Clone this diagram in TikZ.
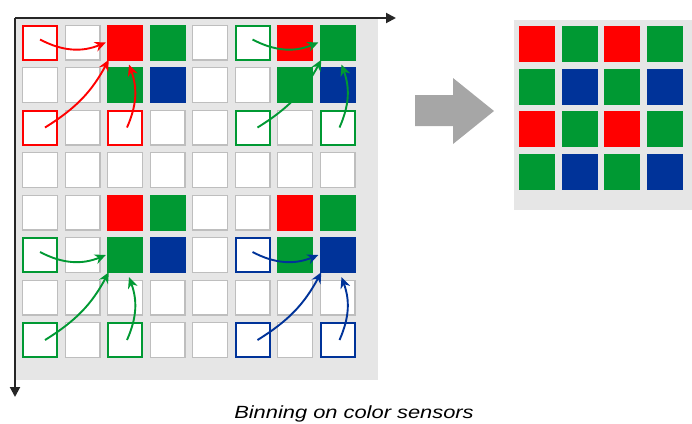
\documentclass[tikz,border=0pt]{standalone}
\usepackage{fontspec}
\usepackage{xcolor}
\usepackage{tikz}
\usetikzlibrary{arrows.meta, positioning, calc}
\newfontfamily\capfont{Liberation Sans}
\definecolor{bayerred}{RGB}{255, 0, 0}
\definecolor{bayergreen}{RGB}{0, 153, 51}
\definecolor{bayerblue}{RGB}{0, 51, 153}
\definecolor{panelgray}{RGB}{230, 230, 230}
\definecolor{cellgray}{RGB}{190, 190, 190}
\definecolor{axisdark}{RGB}{38, 38, 38}
\definecolor{bigarrow}{RGB}{166, 166, 166}
\tikzset{
    px/.style={rectangle, draw=cellgray, fill=white, line width=1.2bp, minimum size=34.8bp, inner sep=0pt},
    pr/.style={rectangle, fill=bayerred, minimum size=36bp, inner sep=0pt},
    pg/.style={pr, fill=bayergreen},
    pb/.style={pr, fill=bayerblue},
    sr/.style={px, draw=bayerred, line width=2bp, minimum size=34bp},
    sg/.style={sr, draw=bayergreen},
    sb/.style={sr, draw=bayerblue},
    axis/.style={draw=axisdark, line width=2bp, -{Triangle[length=10bp, width=10bp]}},
    bin/.style={line width=1.9bp, -{Stealth[length=11bp, width=10bp]}}
}

\begin{document}
\begin{tikzpicture}[x=1bp, y=1bp]
    \useasboundingbox (0,0) rectangle (692,-423);
    \fill[panelgray] (15,-18) rectangle (378,-380);
    \fill[panelgray] (514,-20) rectangle (692,-210);

    \coordinate (origin) at (15,-18);
    \coordinate (xend) at (396,-18);
    \coordinate (yend) at (15,-397);
    \draw[axis] (origin) -- (xend);
    \draw[axis] (origin) -- (yend);

    \foreach \r/\styles in {
        1/{sr,px,pr,pg,px,sg,pr,pg},
        2/{px,px,pg,pb,px,px,pg,pb},
        3/{sr,px,sr,px,px,sg,px,sg},
        4/{px,px,px,px,px,px,px,px},
        5/{px,px,pr,pg,px,px,pr,pg},
        6/{sg,px,pg,pb,px,sb,pg,pb},
        7/{px,px,px,px,px,px,px,px},
        8/{sg,px,sg,px,px,sb,px,sb}} {
        \foreach \s [count=\c] in \styles {
            \node[\s] (p\r\c) at ({40+(\c-1)*42.5}, {-42.5-(\r-1)*42.5}) {};
        }
    }

    \foreach \t/\h/\d/\v/\col in {p13/p11/p31/p33/bayerred, p18/p16/p36/p38/bayergreen,
        p63/p61/p81/p83/bayergreen, p68/p66/p86/p88/bayerblue} {
        \draw[bin, \col] ([yshift=3bp]\h.center) to[bend right=25] ([xshift=-1bp]\t.west);
        \draw[bin, \col] ([xshift=5bp]\d.center) to[bend right=15] ([shift={(2bp,1bp)}]\t.south west);
        \draw[bin, \col] ([xshift=2bp]\v.center) to[bend right=22] ([shift={(4bp,-4bp)}]\t.south);
    }

    \fill[bigarrow] (415,-95) -- (453,-95) -- (453,-78) -- (494,-111)
        -- (453,-144) -- (453,-126) -- (415,-126) -- cycle;

    \foreach \r/\styles in {
        1/{pr,pg,pr,pg},
        2/{pg,pb,pg,pb},
        3/{pr,pg,pr,pg},
        4/{pg,pb,pg,pb}} {
        \foreach \s [count=\c] in \styles {
            \node[\s] (q\r\c) at ({537+(\c-1)*42.7}, {-44-(\r-1)*42.7}) {};
        }
    }

    \node[anchor=base, font=\capfont\itshape\fontsize{17.7}{21}\selectfont] (caption) at (354,-418)
        {\scalebox{1.24}[1]{Binning on color sensors}};
\end{tikzpicture}
\end{document}
